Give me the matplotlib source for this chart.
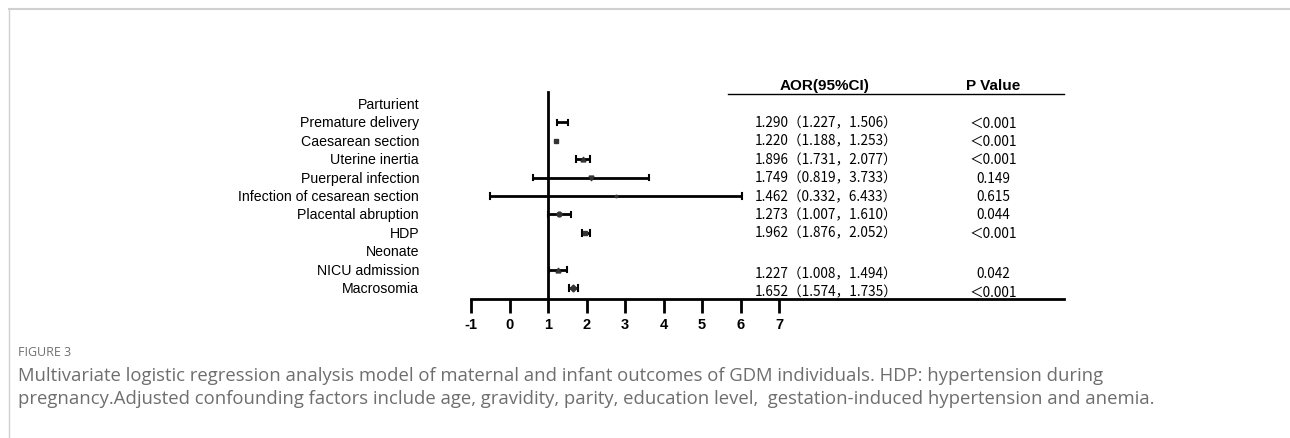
import matplotlib.pyplot as plt
import matplotlib.lines as mlines
import numpy as np

# rows of the forest plot (group headers carry no estimate)
labels = ['Parturient', 'Premature delivery', 'Caesarean section', 'Uterine inertia',
          'Puerperal infection', 'Infection of cesarean section', 'Placental abruption',
          'HDP', 'Neonate', 'NICU admission', 'Macrosomia']
est = [np.nan, 1.29, 1.22, 1.90, 2.12, 2.76, 1.29, 1.96, np.nan, 1.25, 1.65]
lo = [np.nan, 1.23, 1.19, 1.73, 0.60, -0.50, 1.00, 1.88, np.nan, 1.03, 1.55]
hi = [np.nan, 1.51, 1.25, 2.10, 3.62, 6.03, 1.60, 2.09, np.nan, 1.50, 1.77]
aor_text = ['', '1.290（1.227，1.506）', '1.220（1.188，1.253）', '1.896（1.731，2.077）',
            '1.749（0.819，3.733）', '1.462（0.332，6.433）', '1.273（1.007，1.610）',
            '1.962（1.876，2.052）', '', '1.227（1.008，1.494）', '1.652（1.574，1.735）']
p_text = ['', '＜0.001', '＜0.001', '＜0.001', '0.149', '0.615', '0.044',
          '＜0.001', '', '0.042', '＜0.001']
x_ticks = [-1, 0, 1, 2, 3, 4, 5, 6, 7]

markers = ['', '', 's', '^', 'v', '.', 'o', 's', '', '^', 'D']

fig = plt.figure(figsize=(12.9, 4.39), dpi=100)

# page frame like the journal layout
fig.add_artist(mlines.Line2D([9 / 1290, 1], [1 - 10 / 439] * 2, color='#d0d0d0', lw=1.5))
fig.add_artist(mlines.Line2D([9 / 1290] * 2, [0, 1 - 10 / 439], color='#d0d0d0', lw=1))

ax = fig.add_axes([471 / 1290, 1 - 300 / 439, (1064 - 471) / 1290, (300 - 93) / 439])
y = np.arange(len(labels))

for i in range(len(labels)):
    if np.isnan(est[i]):
        continue
    if hi[i] - lo[i] > 0.1:
        ax.plot([lo[i], hi[i]], [y[i], y[i]], color='black', lw=2, solid_capstyle='butt')
        ax.plot([lo[i], lo[i]], [y[i] - 0.15, y[i] + 0.15], color='black', lw=1.5)
        ax.plot([hi[i], hi[i]], [y[i] - 0.15, y[i] + 0.15], color='black', lw=1.5)
    if markers[i]:
        ax.plot(est[i], y[i], marker=markers[i], color='#333333', ms=3.5, ls='none')

ax.set_xlim(-1, 14.4)
ax.set_ylim(10.6, -0.65)
ax.spines['top'].set_visible(False)
ax.spines['right'].set_visible(False)
ax.spines['left'].set_position(('data', 1))
ax.spines['left'].set_linewidth(2)
ax.spines['bottom'].set_linewidth(2)
ax.set_yticks([])
ax.set_xticks(x_ticks)
ax.set_xticklabels([str(t) for t in x_ticks], fontsize=10.5, fontweight='bold',
                   family='Liberation Sans')
ax.tick_params(axis='x', length=10, width=2, direction='out', pad=3)

# row labels, right aligned left of the axis
for i, lab in enumerate(labels):
    ax.text(-2.35, y[i], lab, ha='right', va='center', fontsize=10.2, family='Liberation Sans',
            clip_on=False)

# table on the right
cjk = ['Noto Sans CJK SC', 'DejaVu Sans']
ax.text(8.17, -1.05, 'AOR(95%CI)', ha='center', va='center', fontsize=11, fontweight='bold',
        family='Liberation Sans', clip_on=False)
ax.text(12.56, -1.05, 'P Value', ha='center', va='center', fontsize=11, fontweight='bold',
        family='Liberation Sans', clip_on=False)
ax.plot([5.68, 14.4], [-0.55, -0.55], color='black', lw=1, clip_on=False)
for i in range(len(labels)):
    off = 0.2 if i >= 9 else 0.0
    ax.text(6.38, y[i] + off, aor_text[i], ha='left', va='center', fontsize=9.8,
            family=cjk, clip_on=False)
    ax.text(12.56, y[i] + off, p_text[i], ha='center', va='center', fontsize=9.8,
            family=cjk, clip_on=False)

fig.text(18 / 1290, 1 - 353 / 439, 'FIGURE 3', fontsize=9, color='#707070', va='center',
         family='Open Sans')
fig.text(18 / 1290, 1 - 376 / 439,
         'Multivariate logistic regression analysis model of maternal and infant outcomes of GDM '
         'individuals. HDP: hypertension during', fontsize=13.3, color='#6e6e6e', va='center',
         family='Open Sans')
fig.text(18 / 1290, 1 - 399 / 439,
         'pregnancy.Adjusted confounding factors include age, gravidity, parity, education level,  '
         'gestation-induced hypertension and anemia.', fontsize=13.3, color='#6e6e6e', va='center',
         family='Open Sans')

fig.savefig('out.png', dpi=100)
